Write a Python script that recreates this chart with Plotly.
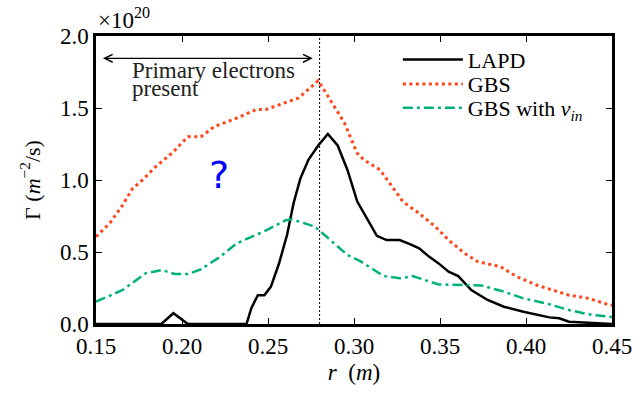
import plotly.graph_objects as go

# ---- data (flux in units of 1e20 m^-2 s^-1) ----
r_lapd = [0.15, 0.188, 0.195, 0.2034, 0.2375, 0.2403, 0.2441, 0.2479, 0.2517, 0.2564,
          0.2611, 0.2649, 0.2688, 0.2735, 0.2792, 0.2848, 0.2905, 0.2962, 0.3019, 0.3076,
          0.3133, 0.3189, 0.3265, 0.3322, 0.3379, 0.3436, 0.3492, 0.355, 0.3606, 0.3682,
          0.3777, 0.3871, 0.3985, 0.4136, 0.4193, 0.425, 0.4364, 0.45]
gamma_lapd = [0, 0, 0.075, 0, 0, 0.11, 0.2, 0.2, 0.26, 0.42,
              0.62, 0.84, 1.01, 1.14, 1.24, 1.32, 1.24, 1.07, 0.85, 0.735,
              0.612, 0.583, 0.583, 0.556, 0.526, 0.468, 0.421, 0.363, 0.333, 0.236,
              0.167, 0.12, 0.085, 0.046, 0.04, 0.016, 0.008, 0.0]

r_gbs = [0.15, 0.158, 0.1655, 0.1712, 0.177, 0.1845, 0.194, 0.2034, 0.211, 0.2186,
         0.2318, 0.2432, 0.2489, 0.2602, 0.2678, 0.2792, 0.2943, 0.3019, 0.3057, 0.3152,
         0.3208, 0.3284, 0.3379, 0.3473, 0.355, 0.3644, 0.372, 0.3852, 0.3947, 0.4061,
         0.425, 0.4364, 0.4468, 0.45]
gamma_gbs = [0.606, 0.70, 0.826, 0.94, 1.0, 1.09, 1.185, 1.30, 1.30, 1.37,
             1.43, 1.49, 1.49, 1.54, 1.57, 1.69, 1.40, 1.185, 1.14, 1.07,
             0.977, 0.85, 0.768, 0.676, 0.583, 0.49, 0.433, 0.398, 0.328, 0.271,
             0.20, 0.178, 0.139, 0.13]

r_gbs_nu = [0.15, 0.1655, 0.1788, 0.1883, 0.1958, 0.2034, 0.211, 0.2223, 0.2318, 0.2375,
            0.2489, 0.2602, 0.264, 0.2773, 0.2886, 0.2962, 0.3038, 0.317, 0.3265, 0.3341,
            0.3492, 0.3644, 0.3739, 0.3871, 0.3985, 0.4117, 0.425, 0.4364, 0.4477, 0.45]
gamma_gbs_nu = [0.155, 0.236, 0.352, 0.375, 0.347, 0.347, 0.38, 0.468, 0.56, 0.59,
                0.65, 0.72, 0.727, 0.676, 0.555, 0.479, 0.435, 0.335, 0.317, 0.333,
                0.275, 0.271, 0.268, 0.225, 0.178, 0.143, 0.097, 0.067, 0.051, 0.048]

x_ticks = [0.15, 0.20, 0.25, 0.30, 0.35, 0.40, 0.45]
y_ticks = [0.0, 0.5, 1.0, 1.5, 2.0]
r_boundary = 0.28
arrow_span = [0.1532, 0.276]
arrow_level = 1.845

FONT = "Liberation Serif"
fig = go.Figure()
fig.add_trace(go.Scatter(x=r_lapd, y=gamma_lapd, mode="lines", name="LAPD",
                         line=dict(color="black", width=2.5), legend="legend",
                         showlegend=True))
fig.add_trace(go.Scatter(x=r_gbs, y=gamma_gbs, mode="lines", name="GBS",
                         line=dict(color="#ff4519", width=3, dash="3px,3.5px"),
                         legend="legend2", showlegend=True))
fig.add_trace(go.Scatter(x=r_gbs_nu, y=gamma_gbs_nu, mode="lines",
                         name="GBS with <i>ν</i><sub><i>in</i></sub>",
                         line=dict(color="#00b27a", width=2.5, dash="10px,4px,3px,4px"),
                         legend="legend3", showlegend=True))

fig.add_shape(type="line", x0=r_boundary, x1=r_boundary, y0=0, y1=2.0,
              xref="x", yref="y", line=dict(color="black", width=1, dash="2px,2px"))

# double-headed arrow
fig.add_annotation(x=arrow_span[1], y=arrow_level, ax=arrow_span[0], ay=arrow_level,
                   xref="x", yref="y", axref="x", ayref="y", text="",
                   showarrow=True, arrowhead=5, startarrowhead=5, arrowside="end+start",
                   arrowwidth=1.2, arrowsize=1.3, startarrowsize=1.3, arrowcolor="black")
fig.add_annotation(x=0.1697, y=1.757, xref="x", yref="y", xanchor="left", yanchor="middle",
                   text="Primary electrons", showarrow=False,
                   font=dict(family=FONT, size=23, color="#222"))
fig.add_annotation(x=0.1697, y=1.635, xref="x", yref="y", xanchor="left", yanchor="middle",
                   text="present", showarrow=False,
                   font=dict(family=FONT, size=23, color="#222"))
fig.add_annotation(x=0.2216, y=1.035, xref="x", yref="y", text="?", showarrow=False,
                   font=dict(family="DejaVu Sans", size=38, color="#0000ff"))
fig.add_annotation(x=0, y=1, xref="paper", yref="paper", xanchor="left", yanchor="bottom",
                   yshift=1, text="×10<sup>20</sup>", showarrow=False,
                   font=dict(family=FONT, size=23, color="black"))

axis_common = dict(showgrid=False, zeroline=False, showline=True, linecolor="black",
                   linewidth=2.5, mirror="ticks", ticks="inside", ticklen=6,
                   tickwidth=1.2, tickcolor="black",
                   tickfont=dict(family=FONT, size=23, color="black"))
fig.update_xaxes(range=[0.15, 0.45], tickvals=x_ticks, tickformat=".2f",
                 ticklabeloverflow="allow",
                 title=dict(text="<i>r</i>\u00a0\u00a0(<i>m</i>)", font=dict(family=FONT, size=23),
                            standoff=6),
                 **axis_common)
fig.update_yaxes(range=[0, 2.0], tickvals=y_ticks, tickformat=".1f",
                 title=dict(text="Γ (<i>m</i><sup>−2</sup>/s)",
                            font=dict(family=FONT, size=22), standoff=14),
                 **axis_common)

leg_common = dict(x=0.585, xanchor="left", yanchor="middle", bgcolor="rgba(0,0,0,0)",
                  font=dict(family=FONT, size=22), itemwidth=60, visible=True)
fig.update_layout(width=644, height=393, margin=dict(l=96, r=20, t=36, b=69),
                  paper_bgcolor="white", plot_bgcolor="white", showlegend=True,
                  font=dict(family=FONT, color="black"),
                  legend=dict(y=0.918, **leg_common),
                  legend2=dict(y=0.833, **leg_common),
                  legend3=dict(y=0.75, **leg_common))

fig.write_html("out.html")
